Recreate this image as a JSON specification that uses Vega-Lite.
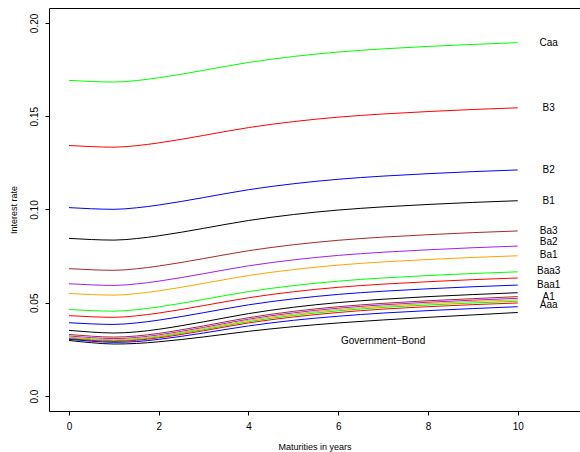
{
 "$schema": "https://vega.github.io/schema/vega-lite/v6.json",
 "width": 531, "height": 403,
 "autosize": {"type": "none"},
 "padding": {"left": 49, "top": 8, "right": 0, "bottom": 41},
 "background": "white",
 "config": {
  "view": {"stroke": "black", "strokeWidth": 1},
  "font": "Liberation Sans",
  "axis": {"grid": false, "domain": false, "tickColor": "black", "tickSize": 4, "labelColor": "black", "titleColor": "black", "labelFontSize": 10, "titleFontSize": 9, "titleFontWeight": "normal", "labelFont": "Liberation Sans", "titleFont": "Liberation Sans"}
 },
 "datasets": {
  "curves": [
   {"r":"Caa","t":0,"v":0.1692},{"r":"Caa","t":0.5,"v":0.1686},{"r":"Caa","t":1,"v":0.1683},{"r":"Caa","t":1.5,"v":0.1691},{"r":"Caa","t":2,"v":0.1706},{"r":"Caa","t":2.5,"v":0.1725},{"r":"Caa","t":3,"v":0.1746},{"r":"Caa","t":4,"v":0.1788},{"r":"Caa","t":5,"v":0.1820},{"r":"Caa","t":6,"v":0.1844},{"r":"Caa","t":7,"v":0.1861},{"r":"Caa","t":8,"v":0.1874},{"r":"Caa","t":9,"v":0.1885},{"r":"Caa","t":10,"v":0.1894},
   {"r":"B3","t":0,"v":0.1343},{"r":"B3","t":0.5,"v":0.1337},{"r":"B3","t":1,"v":0.1334},{"r":"B3","t":1.5,"v":0.1342},{"r":"B3","t":2,"v":0.1357},{"r":"B3","t":2.5,"v":0.1376},{"r":"B3","t":3,"v":0.1397},{"r":"B3","t":4,"v":0.1439},{"r":"B3","t":5,"v":0.1471},{"r":"B3","t":6,"v":0.1495},{"r":"B3","t":7,"v":0.1512},{"r":"B3","t":8,"v":0.1525},{"r":"B3","t":9,"v":0.1536},{"r":"B3","t":10,"v":0.1545},
   {"r":"B2","t":0,"v":0.1010},{"r":"B2","t":0.5,"v":0.1004},{"r":"B2","t":1,"v":0.1001},{"r":"B2","t":1.5,"v":0.1009},{"r":"B2","t":2,"v":0.1024},{"r":"B2","t":2.5,"v":0.1043},{"r":"B2","t":3,"v":0.1064},{"r":"B2","t":4,"v":0.1106},{"r":"B2","t":5,"v":0.1138},{"r":"B2","t":6,"v":0.1162},{"r":"B2","t":7,"v":0.1179},{"r":"B2","t":8,"v":0.1192},{"r":"B2","t":9,"v":0.1203},{"r":"B2","t":10,"v":0.1212},
   {"r":"B1","t":0,"v":0.0845},{"r":"B1","t":0.5,"v":0.0839},{"r":"B1","t":1,"v":0.0836},{"r":"B1","t":1.5,"v":0.0844},{"r":"B1","t":2,"v":0.0859},{"r":"B1","t":2.5,"v":0.0878},{"r":"B1","t":3,"v":0.0899},{"r":"B1","t":4,"v":0.0941},{"r":"B1","t":5,"v":0.0973},{"r":"B1","t":6,"v":0.0997},{"r":"B1","t":7,"v":0.1014},{"r":"B1","t":8,"v":0.1027},{"r":"B1","t":9,"v":0.1038},{"r":"B1","t":10,"v":0.1047},
   {"r":"Ba3","t":0,"v":0.0683},{"r":"Ba3","t":0.5,"v":0.0677},{"r":"Ba3","t":1,"v":0.0674},{"r":"Ba3","t":1.5,"v":0.0682},{"r":"Ba3","t":2,"v":0.0697},{"r":"Ba3","t":2.5,"v":0.0716},{"r":"Ba3","t":3,"v":0.0737},{"r":"Ba3","t":4,"v":0.0779},{"r":"Ba3","t":5,"v":0.0811},{"r":"Ba3","t":6,"v":0.0835},{"r":"Ba3","t":7,"v":0.0852},{"r":"Ba3","t":8,"v":0.0865},{"r":"Ba3","t":9,"v":0.0876},{"r":"Ba3","t":10,"v":0.0885},
   {"r":"Ba2","t":0,"v":0.0602},{"r":"Ba2","t":0.5,"v":0.0596},{"r":"Ba2","t":1,"v":0.0593},{"r":"Ba2","t":1.5,"v":0.0601},{"r":"Ba2","t":2,"v":0.0616},{"r":"Ba2","t":2.5,"v":0.0635},{"r":"Ba2","t":3,"v":0.0656},{"r":"Ba2","t":4,"v":0.0698},{"r":"Ba2","t":5,"v":0.0730},{"r":"Ba2","t":6,"v":0.0754},{"r":"Ba2","t":7,"v":0.0771},{"r":"Ba2","t":8,"v":0.0784},{"r":"Ba2","t":9,"v":0.0795},{"r":"Ba2","t":10,"v":0.0804},
   {"r":"Ba1","t":0,"v":0.0550},{"r":"Ba1","t":0.5,"v":0.0544},{"r":"Ba1","t":1,"v":0.0541},{"r":"Ba1","t":1.5,"v":0.0549},{"r":"Ba1","t":2,"v":0.0564},{"r":"Ba1","t":2.5,"v":0.0583},{"r":"Ba1","t":3,"v":0.0604},{"r":"Ba1","t":4,"v":0.0646},{"r":"Ba1","t":5,"v":0.0678},{"r":"Ba1","t":6,"v":0.0702},{"r":"Ba1","t":7,"v":0.0719},{"r":"Ba1","t":8,"v":0.0732},{"r":"Ba1","t":9,"v":0.0743},{"r":"Ba1","t":10,"v":0.0752},
   {"r":"Baa3","t":0,"v":0.0464},{"r":"Baa3","t":0.5,"v":0.0458},{"r":"Baa3","t":1,"v":0.0455},{"r":"Baa3","t":1.5,"v":0.0463},{"r":"Baa3","t":2,"v":0.0478},{"r":"Baa3","t":2.5,"v":0.0497},{"r":"Baa3","t":3,"v":0.0518},{"r":"Baa3","t":4,"v":0.0560},{"r":"Baa3","t":5,"v":0.0592},{"r":"Baa3","t":6,"v":0.0616},{"r":"Baa3","t":7,"v":0.0633},{"r":"Baa3","t":8,"v":0.0646},{"r":"Baa3","t":9,"v":0.0657},{"r":"Baa3","t":10,"v":0.0666},
   {"r":"Baa2","t":0,"v":0.0431},{"r":"Baa2","t":0.5,"v":0.0425},{"r":"Baa2","t":1,"v":0.0422},{"r":"Baa2","t":1.5,"v":0.0430},{"r":"Baa2","t":2,"v":0.0445},{"r":"Baa2","t":2.5,"v":0.0464},{"r":"Baa2","t":3,"v":0.0485},{"r":"Baa2","t":4,"v":0.0527},{"r":"Baa2","t":5,"v":0.0559},{"r":"Baa2","t":6,"v":0.0583},{"r":"Baa2","t":7,"v":0.0600},{"r":"Baa2","t":8,"v":0.0613},{"r":"Baa2","t":9,"v":0.0624},{"r":"Baa2","t":10,"v":0.0633},
   {"r":"Baa1","t":0,"v":0.0393},{"r":"Baa1","t":0.5,"v":0.0387},{"r":"Baa1","t":1,"v":0.0384},{"r":"Baa1","t":1.5,"v":0.0392},{"r":"Baa1","t":2,"v":0.0407},{"r":"Baa1","t":2.5,"v":0.0426},{"r":"Baa1","t":3,"v":0.0447},{"r":"Baa1","t":4,"v":0.0489},{"r":"Baa1","t":5,"v":0.0521},{"r":"Baa1","t":6,"v":0.0545},{"r":"Baa1","t":7,"v":0.0562},{"r":"Baa1","t":8,"v":0.0575},{"r":"Baa1","t":9,"v":0.0586},{"r":"Baa1","t":10,"v":0.0595},
   {"r":"A3","t":0,"v":0.0352},{"r":"A3","t":0.5,"v":0.0343},{"r":"A3","t":1,"v":0.0338},{"r":"A3","t":1.5,"v":0.0344},{"r":"A3","t":2,"v":0.0358},{"r":"A3","t":2.5,"v":0.0377},{"r":"A3","t":3,"v":0.0398},{"r":"A3","t":4,"v":0.0442},{"r":"A3","t":5,"v":0.0476},{"r":"A3","t":6,"v":0.0501},{"r":"A3","t":7,"v":0.0519},{"r":"A3","t":8,"v":0.0533},{"r":"A3","t":9,"v":0.0544},{"r":"A3","t":10,"v":0.0554},
   {"r":"A2","t":0,"v":0.0330},{"r":"A2","t":0.5,"v":0.0321},{"r":"A2","t":1,"v":0.0316},{"r":"A2","t":1.5,"v":0.0322},{"r":"A2","t":2,"v":0.0336},{"r":"A2","t":2.5,"v":0.0355},{"r":"A2","t":3,"v":0.0376},{"r":"A2","t":4,"v":0.0420},{"r":"A2","t":5,"v":0.0454},{"r":"A2","t":6,"v":0.0479},{"r":"A2","t":7,"v":0.0497},{"r":"A2","t":8,"v":0.0511},{"r":"A2","t":9,"v":0.0522},{"r":"A2","t":10,"v":0.0533},
   {"r":"A1","t":0,"v":0.0322},{"r":"A1","t":0.5,"v":0.0313},{"r":"A1","t":1,"v":0.0308},{"r":"A1","t":1.5,"v":0.0314},{"r":"A1","t":2,"v":0.0328},{"r":"A1","t":2.5,"v":0.0347},{"r":"A1","t":3,"v":0.0368},{"r":"A1","t":4,"v":0.0412},{"r":"A1","t":5,"v":0.0446},{"r":"A1","t":6,"v":0.0471},{"r":"A1","t":7,"v":0.0489},{"r":"A1","t":8,"v":0.0503},{"r":"A1","t":9,"v":0.0514},{"r":"A1","t":10,"v":0.0524},
   {"r":"Aa3","t":0,"v":0.0316},{"r":"Aa3","t":0.5,"v":0.0307},{"r":"Aa3","t":1,"v":0.0302},{"r":"Aa3","t":1.5,"v":0.0308},{"r":"Aa3","t":2,"v":0.0322},{"r":"Aa3","t":2.5,"v":0.0341},{"r":"Aa3","t":3,"v":0.0362},{"r":"Aa3","t":4,"v":0.0406},{"r":"Aa3","t":5,"v":0.0439},{"r":"Aa3","t":6,"v":0.0464},{"r":"Aa3","t":7,"v":0.0482},{"r":"Aa3","t":8,"v":0.0496},{"r":"Aa3","t":9,"v":0.0507},{"r":"Aa3","t":10,"v":0.0516},
   {"r":"Aa2","t":0,"v":0.0311},{"r":"Aa2","t":0.5,"v":0.0302},{"r":"Aa2","t":1,"v":0.0297},{"r":"Aa2","t":1.5,"v":0.0303},{"r":"Aa2","t":2,"v":0.0317},{"r":"Aa2","t":2.5,"v":0.0336},{"r":"Aa2","t":3,"v":0.0356},{"r":"Aa2","t":4,"v":0.0399},{"r":"Aa2","t":5,"v":0.0432},{"r":"Aa2","t":6,"v":0.0457},{"r":"Aa2","t":7,"v":0.0475},{"r":"Aa2","t":8,"v":0.0488},{"r":"Aa2","t":9,"v":0.0499},{"r":"Aa2","t":10,"v":0.0508},
   {"r":"Aa1","t":0,"v":0.0307},{"r":"Aa1","t":0.5,"v":0.0298},{"r":"Aa1","t":1,"v":0.0293},{"r":"Aa1","t":1.5,"v":0.0299},{"r":"Aa1","t":2,"v":0.0312},{"r":"Aa1","t":2.5,"v":0.0330},{"r":"Aa1","t":3,"v":0.0350},{"r":"Aa1","t":4,"v":0.0392},{"r":"Aa1","t":5,"v":0.0424},{"r":"Aa1","t":6,"v":0.0448},{"r":"Aa1","t":7,"v":0.0466},{"r":"Aa1","t":8,"v":0.0479},{"r":"Aa1","t":9,"v":0.0490},{"r":"Aa1","t":10,"v":0.0499},
   {"r":"Aaa","t":0,"v":0.0304},{"r":"Aaa","t":0.5,"v":0.0294},{"r":"Aaa","t":1,"v":0.0288},{"r":"Aaa","t":1.5,"v":0.0292},{"r":"Aaa","t":2,"v":0.0304},{"r":"Aaa","t":2.5,"v":0.0320},{"r":"Aaa","t":3,"v":0.0338},{"r":"Aaa","t":4,"v":0.0376},{"r":"Aaa","t":5,"v":0.0406},{"r":"Aaa","t":6,"v":0.0428},{"r":"Aaa","t":7,"v":0.0445},{"r":"Aaa","t":8,"v":0.0458},{"r":"Aaa","t":9,"v":0.0469},{"r":"Aaa","t":10,"v":0.0479},
   {"r":"Gov","t":0,"v":0.0298},{"r":"Gov","t":0.5,"v":0.0286},{"r":"Gov","t":1,"v":0.0279},{"r":"Gov","t":1.5,"v":0.0282},{"r":"Gov","t":2,"v":0.0291},{"r":"Gov","t":2.5,"v":0.0303},{"r":"Gov","t":3,"v":0.0317},{"r":"Gov","t":4,"v":0.0347},{"r":"Gov","t":5,"v":0.0372},{"r":"Gov","t":6,"v":0.0392},{"r":"Gov","t":7,"v":0.0408},{"r":"Gov","t":8,"v":0.0422},{"r":"Gov","t":9,"v":0.0435},{"r":"Gov","t":10,"v":0.0448}
  ],
  "labels": [
   {"label":"Caa","t":10.69,"v":0.1894},
   {"label":"B3","t":10.69,"v":0.1543},
   {"label":"B2","t":10.69,"v":0.1212},
   {"label":"B1","t":10.69,"v":0.1046},
   {"label":"Ba3","t":10.69,"v":0.0885},
   {"label":"Ba2","t":10.69,"v":0.0824},
   {"label":"Ba1","t":10.69,"v":0.0756},
   {"label":"Baa3","t":10.69,"v":0.0672},
   {"label":"Baa1","t":10.69,"v":0.0594},
   {"label":"A1","t":10.69,"v":0.0529},
   {"label":"Aaa","t":10.69,"v":0.0486},
   {"label":"Government−Bond","t":7.0,"v":0.0295}
  ]
 },
 "layer": [
  {
   "data": {"name": "curves"},
   "mark": {"type": "line", "interpolate": "monotone", "strokeWidth": 1, "clip": true},
   "encoding": {
    "x": {"field": "t", "type": "quantitative", "title": "Maturities in years",
          "scale": {"domain": [-0.446, 11.388], "nice": false, "zero": false},
          "axis": {"values": [0, 2, 4, 6, 8, 10], "format": "d", "labelPadding": 6, "titleY": 35.5, "titleBaseline": "middle", "labelFlush": false, "labelOverlap": false}},
    "y": {"field": "v", "type": "quantitative", "title": "Interest rate",
          "scale": {"domain": [-0.008, 0.208], "nice": false, "zero": false},
          "axis": {"values": [0, 0.05, 0.1, 0.15, 0.2], "labelExpr": "datum.value == 0 ? '0.0' : format(datum.value, '.2f')", "labelAngle": -90, "labelAlign": "center", "labelBaseline": "alphabetic", "labelPadding": 8, "titleX": -36, "titleBaseline": "middle", "labelFlush": false, "labelOverlap": false}},
    "color": {"field": "r", "type": "nominal", "legend": null,
              "scale": {"domain": ["Caa","B3","B2","B1","Ba3","Ba2","Ba1","Baa3","Baa2","Baa1","A3","A2","A1","Aa3","Aa2","Aa1","Aaa","Gov"],
                        "range": ["#00FF00","#FF0000","#0000FF","#000000","#A52A2A","#A020F0","#FFA500","#00FF00","#FF0000","#0000FF","#000000","#A52A2A","#A020F0","#FFA500","#00FF00","#FF0000","#0000FF","#000000"]}}
   }
  },
  {
   "data": {"name": "labels"},
   "mark": {"type": "text", "fontSize": 10, "align": "center", "baseline": "middle", "color": "black", "font": "Liberation Sans"},
   "encoding": {
    "x": {"field": "t", "type": "quantitative"},
    "y": {"field": "v", "type": "quantitative"},
    "text": {"field": "label"}
   }
  }
 ]
}
